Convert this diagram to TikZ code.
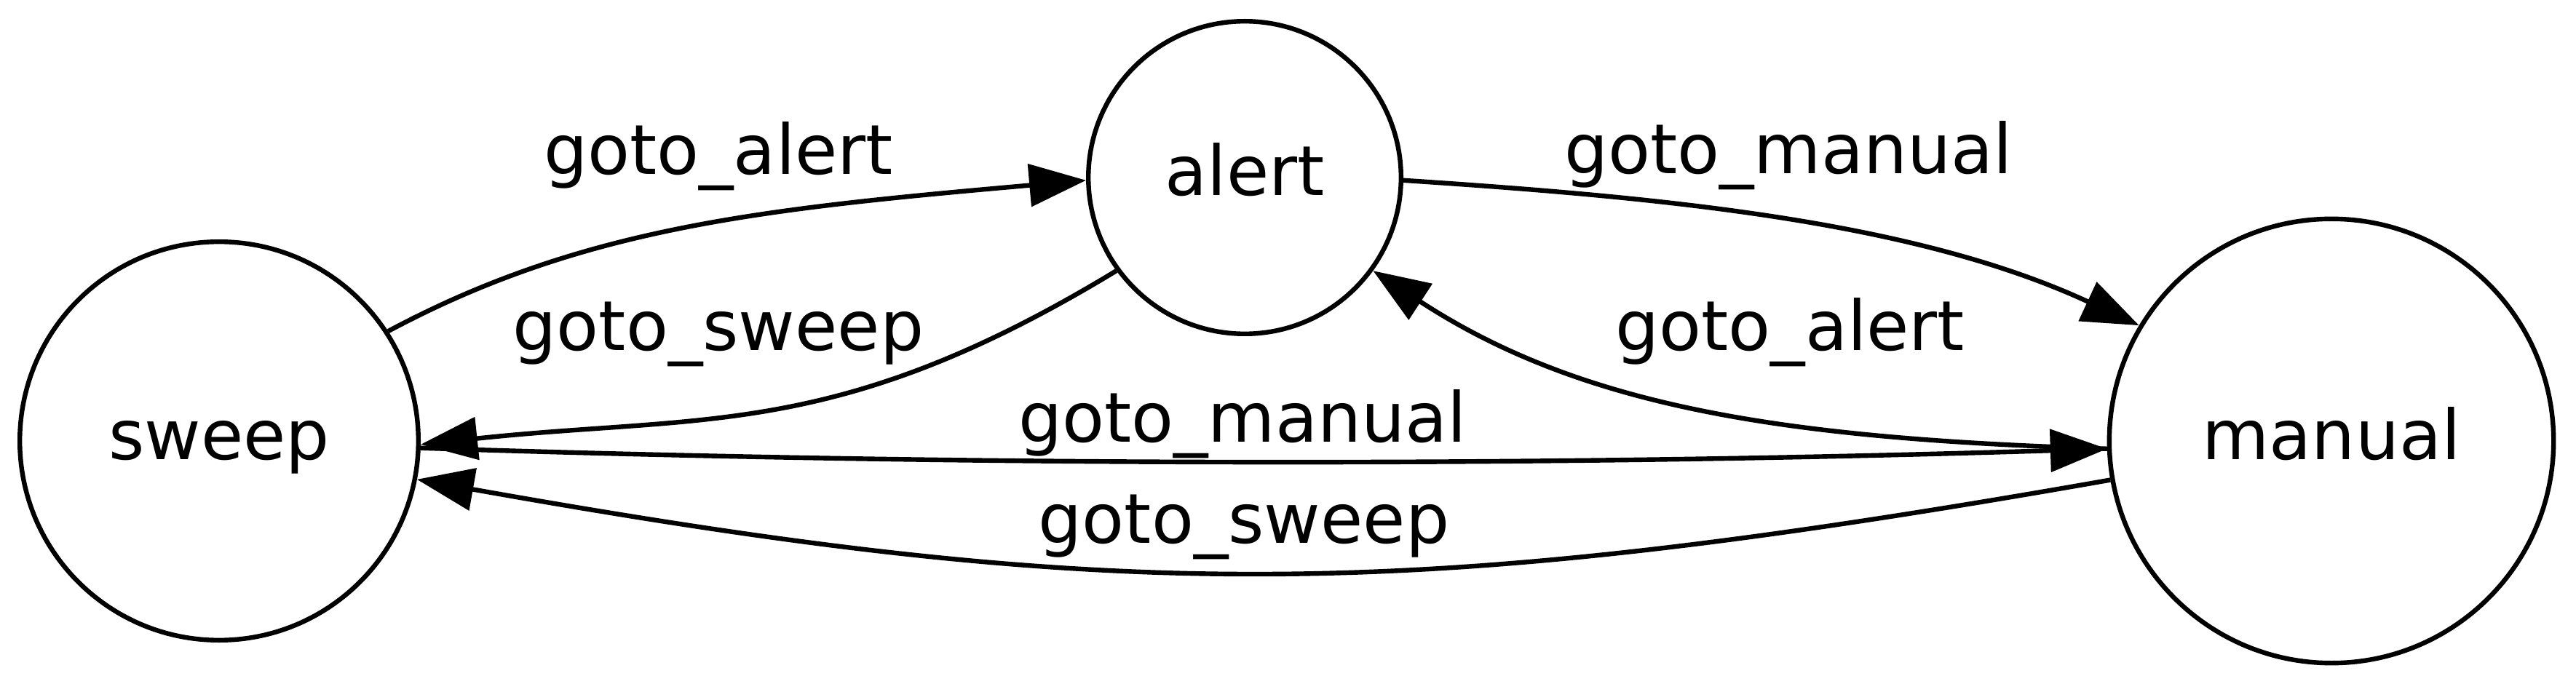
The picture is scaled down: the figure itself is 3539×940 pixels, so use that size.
\documentclass[tikz,border=0pt]{standalone}
\usepackage{fontspec}
\setmainfont{DejaVu Sans}
\usetikzlibrary{arrows.meta}
\begin{document}
\begin{tikzpicture}[x=0.25pt,y=-0.25pt,
  state/.style={circle,draw,line width=1.6pt,inner sep=0pt,text height=12.5pt,text depth=0pt,font=\fontsize{23.7pt}{28pt}\selectfont},
  elabel/.style={anchor=base,inner sep=0pt,font=\fontsize{23.7pt}{28pt}\selectfont},
  trans/.style={line width=1.6pt,-{Triangle[length=19.5pt,width=14.5pt]}}]
\useasboundingbox (0,0) rectangle (3539,940);
\fill[white] (0,0) rectangle (3539,940);
\node[state,minimum size=136.9pt] (sweep) at (301,606) {sweep};
\node[state,minimum size=107.4pt] (alert) at (1710,244) {alert};
\node[state,minimum size=152.6pt] (manual) at (3203,606) {manual};
\draw[trans] (sweep.33) .. controls (801,312) and (1048,287) .. (alert.181);
\draw[trans] (alert.216) .. controls (1150,605) and (970,569) .. (sweep.-1);
\draw[trans] (alert.-1) .. controls (2279,271) and (2628,303) .. (manual.149);
\draw[trans] (manual.182) .. controls (2452,603) and (2174,560) .. (alert.-36);
\draw[trans] (sweep.-2) .. controls (1350,641) and (2125,641) .. (manual.182);
\draw[trans] (manual.190) .. controls (1930,830) and (1535,830) .. (sweep.-11);
\node[elabel] (l1) at (987,239.5) {goto\_alert};
\node[elabel] (l2) at (987,481.5) {goto\_sweep};
\node[elabel] (l3) at (2457,238.5) {goto\_manual};
\node[elabel] (l4) at (2459,481.5) {goto\_alert};
\node[elabel] (l5) at (1707,607) {goto\_manual};
\node[elabel] (l6) at (1709,746) {goto\_sweep};
\end{tikzpicture}
\end{document}
